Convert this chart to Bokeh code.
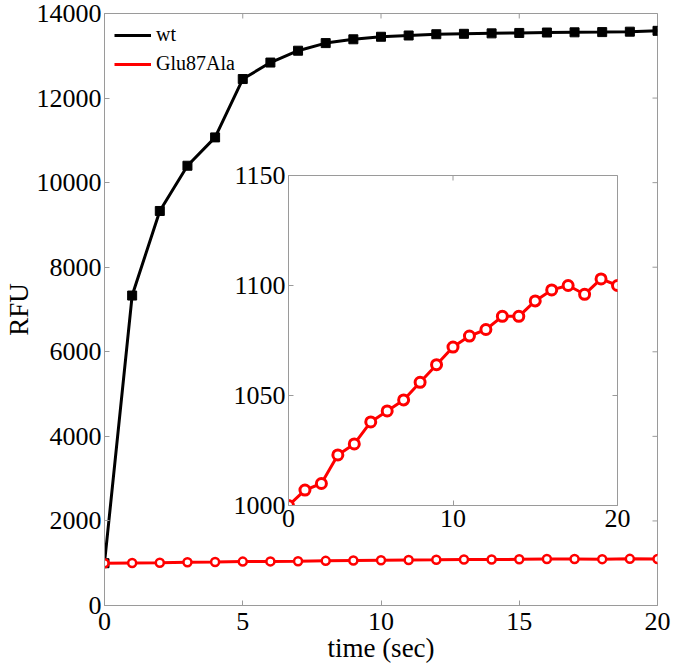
import math
from bokeh.plotting import figure
from bokeh.models import Range1d, FixedTicker, Legend, LegendItem
from bokeh.embed import file_html
from bokeh.resources import INLINE

# ---- data ----
time_sec = list(range(21))
wt = [1000, 7330, 9330, 10400, 11070, 12450, 12840, 13120, 13300, 13390, 13450,
      13480, 13510, 13520, 13530, 13540, 13550, 13555, 13560, 13570, 13590]
glu87ala = [1000, 1007, 1010, 1023, 1028, 1038, 1043, 1048, 1056, 1064, 1072,
            1077, 1080, 1086, 1086, 1093, 1098, 1100, 1096, 1103, 1100]
main_x_ticks = [0, 5, 10, 15, 20]
main_y_ticks = [0, 2000, 4000, 6000, 8000, 10000, 12000, 14000]
inset_x_ticks = [0, 10, 20]
inset_y_ticks = [1000, 1050, 1100, 1150]

FONT = "Liberation Serif"
AX = "#9a9a9a"
RED = "#ff0000"


def style_axis(ax, ticks, size="26px"):
    ax.ticker = FixedTicker(ticks=ticks)
    ax.axis_line_color = AX
    ax.major_tick_line_color = AX
    ax.major_tick_in = 5
    ax.major_tick_out = 0
    ax.minor_tick_line_color = None
    ax.major_label_text_font = FONT
    ax.major_label_text_color = "black"
    ax.major_label_text_font_size = size


def mirror_ticks(fig, xticks, yticks):
    """Inward tick marks on the top and right edges of the frame (no labels)."""
    xr, yr = fig.x_range, fig.y_range
    fig.scatter(xticks, [yr.end] * len(xticks), marker="dash", angle=math.pi / 2,
                size=10, line_color=AX, line_width=1)
    fig.scatter([xr.end] * len(yticks), yticks, marker="dash",
                size=10, line_color=AX, line_width=1)


# ---- main plot ----
p = figure(width=675, height=665, x_range=Range1d(0, 20), y_range=Range1d(0, 14000),
           output_backend="svg", toolbar_location=None,
           min_border_left=103, min_border_right=18, min_border_top=13, min_border_bottom=58,
           styles={"position": "absolute", "left": "0px", "top": "0px"})
p.grid.visible = False
p.outline_line_color = AX
p.background_fill_color = "white"
p.border_fill_color = "white"

style_axis(p.xaxis[0], main_x_ticks)
style_axis(p.yaxis[0], main_y_ticks)
p.xaxis[0].major_label_standoff = 7
p.yaxis[0].major_label_standoff = 3
p.xaxis[0].axis_label = "time (sec)"
p.yaxis[0].axis_label = "RFU"
for ax in (p.xaxis[0], p.yaxis[0]):
    ax.axis_label_text_font = FONT
    ax.axis_label_text_font_size = "27px"
    ax.axis_label_text_font_style = "normal"
    ax.axis_label_text_color = "black"
p.xaxis[0].axis_label_standoff = 0
p.yaxis[0].axis_label_standoff = 0

mirror_ticks(p, main_x_ticks, main_y_ticks)

l_wt = p.line(time_sec, wt, line_color="black", line_width=3)
p.scatter(time_sec, wt, marker="square", size=9, fill_color="black", line_color="black")
l_glu = p.line(time_sec, glu87ala, line_color=RED, line_width=3)
p.scatter(time_sec, glu87ala, marker="circle", size=8, fill_color="white",
          line_color=RED, line_width=2.5)

legend = Legend(items=[LegendItem(label="wt", renderers=[l_wt]),
                       LegendItem(label="Glu87Ala", renderers=[l_glu])],
                location="top_left", border_line_color=None, background_fill_alpha=0,
                label_text_font=FONT, label_text_font_size="20px", label_text_color="black",
                glyph_width=37, glyph_height=20, label_height=20, spacing=6,
                padding=12, margin=10, label_standoff=5)
p.add_layout(legend)

# ---- inset ----
q = figure(width=419, height=390, x_range=Range1d(0, 20), y_range=Range1d(1000, 1150),
           output_backend="svg", toolbar_location=None,
           min_border_left=70, min_border_right=20, min_border_top=20, min_border_bottom=40,
           styles={"position": "absolute", "left": "218px", "top": "155px"})
q.grid.visible = False
q.outline_line_color = AX
q.background_fill_color = "white"
q.border_fill_alpha = 0
style_axis(q.xaxis[0], inset_x_ticks)
style_axis(q.yaxis[0], inset_y_ticks)
q.xaxis[0].major_label_standoff = 4
q.yaxis[0].major_label_standoff = 3
mirror_ticks(q, inset_x_ticks, inset_y_ticks)

q.line(time_sec, glu87ala, line_color=RED, line_width=3)
q.scatter(time_sec, glu87ala, marker="circle", size=10, fill_color="white",
          line_color=RED, line_width=3)

open("out.html", "w").write(file_html([p, q], INLINE))
